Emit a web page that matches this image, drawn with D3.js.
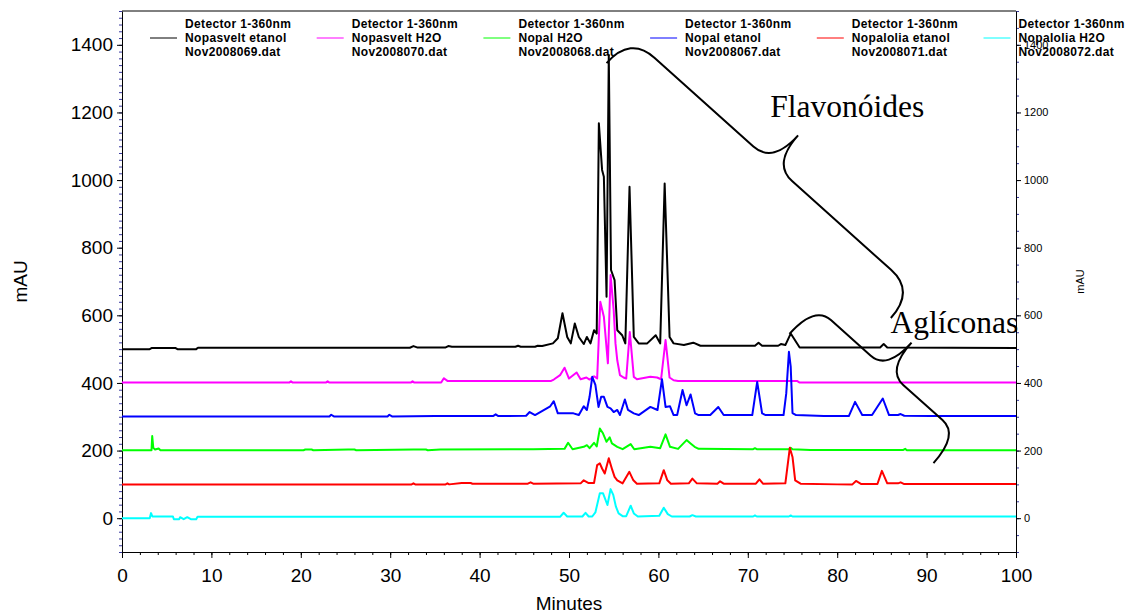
<!DOCTYPE html>
<html>
<head>
<meta charset="utf-8">
<script src="https://cdn.jsdelivr.net/npm/d3@7/dist/d3.min.js"></script>
<style>
  body { margin: 0; background: #fff; }
  svg { font-family: "Liberation Sans", Arial, sans-serif; }
</style>
</head>
<body>
<div id="viz"></div>
<script>
// each trace: [minutes, mAU above its own baseline]
var nopasveltEtanol = [[0,0],[3.1,0],[3.3,3],[6.0,3],[6.2,0],[8.3,0],[8.5,4],[32.2,4],[32.6,9],[33.0,5],[36.2,5],[36.5,9],[36.9,7],
  [44.0,7],[44.3,10],[44.6,7],[46.2,7],[46.5,10],[47.0,9],[48.2,17],[48.75,32],[49.27,106],[49.8,36],[50.2,17],[50.65,76],[51.1,36],
  [51.65,15],[52.0,36],[52.4,17],[52.8,56],[53.1,46],[53.34,668],[53.7,530],[53.9,510],[54.2,155],[54.45,870],[54.7,234],[55.1,204],
  [55.4,56],[55.95,41],[56.3,17],[56.77,480],[57.25,36],[57.8,17],[58.75,17],[59.7,41],[60.2,17],[60.7,490],[61.25,36],[61.7,17],
  [62.85,12],[63.9,19],[64.7,10],[70.8,10],[71.2,19],[71.6,10],[73.4,10],[73.7,15],[74.2,12],[74.8,46],[75.8,5],[84.8,5],[85.2,15],
  [85.6,5],[100,3]];
var nopasveltH2O = [[0,1],[18.7,1],[18.9,5],[19.1,1],[22.8,1],[23.0,5],[23.2,1],[32.3,1],[32.5,5],[32.7,1],[35.7,1],[36.0,14],[36.4,6],
  [48.0,6],[48.3,10],[49.0,23],[49.5,45],[50.0,13],[50.85,31],[51.3,11],[51.95,16],[52.3,10],[52.8,20],[53.15,13],[53.5,240],[53.9,196],
  [54.35,58],[54.65,319],[55.0,215],[55.2,117],[55.4,67],[55.7,23],[56.1,16],[56.4,13],[56.8,151],[57.25,18],[57.6,11],[59.1,18],
  [59.85,16],[60.3,11],[60.8,127],[61.25,16],[61.7,8],[62.2,6],[75.5,6],[75.8,1],[100,1]];
var nopalH2O = [[0,1],[3.3,1],[3.38,43],[3.5,8],[3.7,3],[4.1,6],[4.3,1],[20.3,1],[20.5,3],[21.2,3],[21.4,1],[25.3,3],[26.0,3],[26.2,1],
  [32.6,3],[34.0,3],[34.2,1],[35.6,3],[46.0,4],[49.5,5],[49.9,23],[50.4,4],[51.65,11],[52.0,16],[52.3,7],[52.8,23],[53.1,12],
  [53.45,65],[53.8,51],[54.2,26],[54.55,39],[54.8,21],[55.4,11],[56.0,4],[56.9,19],[57.3,4],[59.1,11],[60.2,7],[60.8,48],[61.3,11],
  [62.2,5],[63.15,31],[63.6,21],[64.05,11],[64.5,5],[70.6,4],[70.8,7],[71.0,4],[74.6,4],[74.8,8],[75.0,4],[77.0,2],[87.4,2],[87.6,5],
  [87.8,1],[100,1]];
var nopalEtanol = [[0,1],[23.2,1],[23.4,6],[23.7,1],[29.7,1],[29.9,6],[30.2,1],[35.0,2],[41.5,2],[41.8,7],[42.1,2],[45.2,3],[45.6,14],
  [46.2,5],[47.9,31],[48.3,46],[48.75,10],[50.5,10],[51.1,5],[51.65,31],[52.0,20],[52.3,59],[52.6,118],[52.95,94],[53.3,29],[53.6,59],
  [53.9,59],[54.3,29],[54.65,25],[55.0,14],[55.4,20],[55.7,5],[56.25,51],[56.6,20],[57.25,10],[57.8,5],[59.1,29],[59.9,20],[60.4,111],
  [60.8,29],[61.3,31],[61.7,5],[62.1,5],[62.7,79],[63.15,34],[63.6,66],[64.1,10],[64.5,5],[65.8,5],[66.7,29],[67.3,5],[70.5,5],
  [71.05,103],[71.6,10],[72.0,5],[74.0,5],[74.3,69],[74.6,192],[74.8,148],[75.0,11],[75.4,5],[78.5,2],[81.3,2],[82.0,44],[82.8,5],
  [83.9,5],[85.1,54],[85.8,5],[86.8,5],[87.1,8],[87.5,3],[90.4,2],[100,2]];
var nopaloliaEtanol = [[0,0],[32.4,0],[32.6,3],[32.8,0],[36.2,0],[36.4,3],[36.6,0],[38.0,4],[39.0,4],[39.2,2],[45.4,2],[45.7,6],[46.0,2],
  [51.3,3],[51.65,12],[52.2,4],[52.8,4],[53.15,57],[53.45,62],[53.7,47],[54.0,32],[54.45,77],[54.85,42],[55.1,22],[55.4,12],[56.0,3],
  [56.75,37],[57.2,12],[57.6,2],[60.1,3],[60.6,42],[61.0,12],[61.4,2],[63.4,3],[63.8,17],[64.3,3],[66.6,2],[66.9,9],[67.3,2],[70.9,2],
  [71.3,15],[71.7,2],[74.2,3],[74.7,108],[75.0,81],[75.3,12],[75.9,2],[80.0,0],[81.7,0],[82.1,10],[82.7,1],[84.5,1],[85.0,40],[85.6,3],
  [86.8,3],[87.1,6],[87.5,1],[100,1]];
var nopaloliaH2O = [[0,0],[3.1,0],[3.25,15],[3.4,5],[5.7,5],[5.8,-3],[6.4,-3],[6.5,3],[6.9,-3],[7.3,3],[7.7,-3],[8.3,-3],[8.45,4],
  [49.0,4],[49.4,16],[49.8,5],[51.5,5],[51.85,16],[52.2,5],[52.6,5],[52.95,17],[53.45,74],[53.8,74],[54.3,39],[54.65,86],[54.95,69],
  [55.25,34],[55.55,14],[56.0,6],[56.4,6],[56.9,37],[57.25,14],[57.7,5],[60.1,7],[60.6,31],[61.05,12],[61.5,5],[63.5,5],[63.8,9],
  [64.2,5],[70.6,5],[70.8,8],[71.0,5],[74.6,5],[74.8,8],[75.0,5],[100,5]];

var traces = [nopasveltEtanol, nopasveltH2O, nopalH2O, nopalEtanol, nopaloliaEtanol, nopaloliaH2O];
var baselines = [500, 400, 200, 300, 100, 0];
var seriesNames = ["Nopasvelt etanol", "Nopasvelt H2O", "Nopal H2O", "Nopal etanol", "Nopalolia etanol", "Nopalolia H2O"];
var fileNames = ["Nov2008069.dat", "Nov2008070.dat", "Nov2008068.dat", "Nov2008067.dat", "Nov2008071.dat", "Nov2008072.dat"];
var seriesColors = ["#000000", "#ff00ff", "#00ff00", "#0000ff", "#ff0000", "#00ffff"];
var detectorLabel = "Detector 1-360nm";

var xTicks = [0, 10, 20, 30, 40, 50, 60, 70, 80, 90, 100];
var yTicks = [0, 200, 400, 600, 800, 1000, 1200, 1400];

// bracket annotations, anchored in data units
var annotations = [
  { label: "Flavonóides", at: [72.5, 1187], from: [54.2, 1346], to: [86.0, 592], depth: 74, arm: 36, bend: 32, tip: 26 },
  { label: "Aglíconas", at: [85.96, 547], from: [74.66, 545], to: [90.77, 163], depth: 75, arm: 38, bend: 22, tip: 22 }
];

// set the dimensions and margins of the graph
var margin = { top: 11, right: 121, bottom: 62, left: 122 },
    width = 1137 - margin.left - margin.right,
    height = 614 - margin.top - margin.bottom;

var root = d3.select("#viz")
  .append("svg")
  .attr("width", width + margin.left + margin.right)
  .attr("height", height + margin.top + margin.bottom);

var svg = root.append("g")
  .attr("transform", "translate(" + margin.left + "," + margin.top + ")");

var x = d3.scaleLinear().domain([0, 100]).range([0, width]);
var y = d3.scaleLinear().domain([-100, 1500]).range([height, 0]);
var fmt = d3.format("d");

// minor ticks first so the major ones sit on top
svg.append("g")
  .attr("transform", "translate(0," + height + ")")
  .call(d3.axisBottom(x).tickValues(d3.range(0, 101, 2)).tickSize(3).tickSizeOuter(0).tickFormat(""))
  .call(g => g.select(".domain").remove());
svg.append("g")
  .call(d3.axisLeft(y).tickValues(d3.range(-100, 1501, 20)).tickSize(3).tickSizeOuter(0).tickFormat(""))
  .call(g => g.select(".domain").remove())
  .selectAll("line").attr("stroke", "#3a3aa0");
svg.append("g")
  .attr("transform", "translate(" + width + ",0)")
  .call(d3.axisRight(y).tickValues(d3.range(-100, 1501, 50)).tickSize(3).tickSizeOuter(0).tickFormat(""))
  .call(g => g.select(".domain").remove())
  .selectAll("line").attr("stroke", "#3a3aa0");

// x axis
var xAxisG = svg.append("g")
  .attr("transform", "translate(0," + height + ")")
  .call(d3.axisBottom(x).tickValues(xTicks).tickFormat(fmt).tickSize(6).tickPadding(11).tickSizeOuter(0));
xAxisG.selectAll("text").style("font-size", "19px").style("font-family", "Liberation Sans, Arial, sans-serif");

// left y axis
var yAxisG = svg.append("g")
  .call(d3.axisLeft(y).tickValues(yTicks).tickFormat(fmt).tickSize(5).tickPadding(4).tickSizeOuter(0));
yAxisG.selectAll("text").style("font-size", "19px").style("font-family", "Liberation Sans, Arial, sans-serif");

// right y axis
var yRightG = svg.append("g")
  .attr("transform", "translate(" + width + ",0)")
  .call(d3.axisRight(y).tickValues(yTicks).tickFormat(fmt).tickSize(5).tickPadding(3).tickSizeOuter(0));
yRightG.selectAll("text").style("font-size", "11px").style("font-family", "Liberation Sans, Arial, sans-serif");

// top frame line
svg.append("line")
  .attr("x1", 0).attr("x2", width)
  .attr("y1", 0).attr("y2", 0)
  .attr("stroke", "#000");

// axis titles
svg.append("text")
  .attr("x", width / 2)
  .attr("y", height + 58)
  .style("text-anchor", "middle")
  .style("font-size", "19px")
  .text("Minutes");

svg.append("text")
  .attr("transform", "rotate(-90)")
  .attr("x", -height / 2)
  .attr("y", -95)
  .style("text-anchor", "middle")
  .style("font-size", "19px")
  .text("mAU");

svg.append("text")
  .attr("transform", "translate(" + (width + 68) + "," + (height / 2) + ") rotate(-90)")
  .style("text-anchor", "middle")
  .style("font-size", "11px")
  .text("mAU");

// traces
var drawLine = d3.line()
  .x(d => x(d[0]))
  .y(d => y(d[1]));

traces.forEach((trace, i) => {
  svg.append("path")
    .datum(trace.map(d => [d[0], d[1] + baselines[i]]))
    .attr("fill", "none")
    .attr("stroke", seriesColors[i])
    .attr("stroke-width", 2)
    .attr("stroke-linejoin", "round")
    .attr("d", drawLine);
});

// legend
var legend = root.append("g")
  .style("font-weight", "bold")
  .style("font-size", "12px")
  .style("letter-spacing", "0.35px");
seriesNames.forEach((name, i) => {
  var lx = 150 + i * 166.7;
  legend.append("line")
    .attr("x1", lx).attr("x2", lx + 27)
    .attr("y1", 38).attr("y2", 38)
    .attr("stroke", seriesColors[i])
    .attr("stroke-width", 1);
  [detectorLabel, name, fileNames[i]].forEach((s, k) => {
    legend.append("text")
      .attr("x", lx + 35)
      .attr("y", 28 + k * 14)
      .text(s);
  });
});

// curly bracket between two pixel points, tip bulging to the left of the from->to direction
function bracePath(p0, p1, w, h, r, t) {
  var dx = p1[0] - p0[0], dy = p1[1] - p0[1];
  var L = Math.hypot(dx, dy), ux = dx / L, uy = dy / L;
  var P = (u, v) => [p0[0] + u * ux + v * uy, p0[1] + u * uy - v * ux];
  var p = d3.path();
  var a;
  a = P(0, 0); p.moveTo(a[0], a[1]);
  a = P(0, h).concat(P(r, h)); p.quadraticCurveTo(a[0], a[1], a[2], a[3]);
  a = P(L / 2 - t, h); p.lineTo(a[0], a[1]);
  a = P(L / 2, h).concat(P(L / 2, w)); p.quadraticCurveTo(a[0], a[1], a[2], a[3]);
  a = P(L, 0); p.moveTo(a[0], a[1]);
  a = P(L, h).concat(P(L - r, h)); p.quadraticCurveTo(a[0], a[1], a[2], a[3]);
  a = P(L / 2 + t, h); p.lineTo(a[0], a[1]);
  a = P(L / 2, h).concat(P(L / 2, w)); p.quadraticCurveTo(a[0], a[1], a[2], a[3]);
  return p.toString();
}

annotations.forEach(an => {
  svg.append("path")
    .attr("d", bracePath([x(an.from[0]), y(an.from[1])], [x(an.to[0]), y(an.to[1])], an.depth, an.arm, an.bend, an.tip))
    .attr("fill", "none")
    .attr("stroke", "#000")
    .attr("stroke-width", 2);
  svg.append("text")
    .attr("x", x(an.at[0]))
    .attr("y", y(an.at[1]))
    .style("font-family", "Liberation Serif, Times New Roman, serif")
    .style("font-size", "31.5px")
    .text(an.label);
});
</script>
</body>
</html>
